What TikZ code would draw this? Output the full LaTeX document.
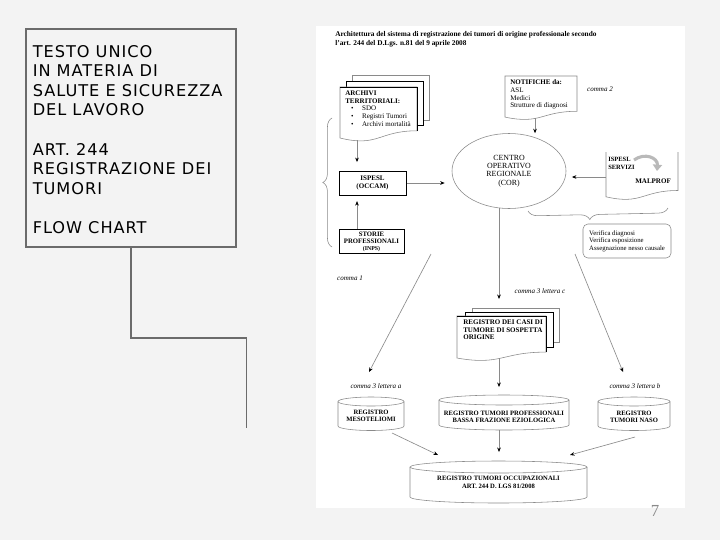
\documentclass[tikz,border=0pt]{standalone}
\usepackage{fontspec}
\setmainfont{Liberation Serif}
\newfontfamily\slidefont{DejaVu Sans}[LetterSpace=6]
\usetikzlibrary{arrows.meta,calc,shapes.geometric,decorations.pathreplacing}

\definecolor{slidebg}{HTML}{F3F3F3}
\definecolor{framegray}{HTML}{6B6B6B}
\definecolor{wiregray}{HTML}{8A8A8A}

\def\px{0.025cm}
\newcommand{\tinyfont}{\fontsize{5}{5.5}\selectfont}

% document sheet with wavy bottom: [opts]{x1}{y1}{x2}{y2}
\newcommand{\docsheet}[5][]{%
  \pgfmathsetmacro{\ydr}{#3+0.802*(#5-#3)}%
  \pgfmathsetmacro{\ydl}{#3+0.934*(#5-#3)}%
  \pgfmathsetmacro{\ydd}{#3+1.107*(#5-#3)}%
  \pgfmathsetmacro{\xdm}{(#2+#4)/2}%
  \draw[sheet,#1] (#2,#3) -- (#4,#3) -- (#4,\ydr) .. controls (\xdm,\ydr) and (\xdm,\ydd) .. (#2,\ydl) -- cycle;}

% register drum: {x1}{x2}{y top}{y bottom}{ry}
\newcommand{\regdrum}[5]{%
  \pgfmathsetmacro{\rxd}{(#2-#1)/2}%
  \pgfmathsetmacro{\xcd}{(#1+#2)/2}%
  \fill[white] (#1,#3) -- (#1,#4) arc[start angle=180, end angle=0, x radius=\rxd, y radius=#5] -- (#2,#3);
  \draw[wiregray, line width=0.4pt] (#1,#3) -- (#1,#4) arc[start angle=180, end angle=0, x radius=\rxd, y radius=#5] -- (#2,#3);
  \draw[sheet] (\xcd,#3) ellipse[x radius=\rxd, y radius=#5];}

\tikzset{
  sheet/.style={draw=wiregray, line width=0.4pt, fill=white},
  flow/.style={wiregray, line width=0.45pt, -{Stealth[length=3.2pt,width=2.6pt,color=black]}},
  doctext/.style={inner sep=0pt, align=left, anchor=north west, font=\tinyfont},
  boldbox/.style={draw=black, line width=0.7pt, fill=white, inner sep=0pt, align=center, font=\tinyfont\bfseries},
  cyltext/.style={inner sep=0pt, align=center, font=\fontsize{4.7}{5.2}\selectfont\bfseries},
  commalabel/.style={inner sep=0pt, font=\fontsize{5}{6}\selectfont\itshape},
}

\begin{document}
\begin{tikzpicture}[x=\px, y=-\px]
\useasboundingbox (0,0) rectangle (720,540);
\fill[slidebg] (0,0) rectangle (720,540);

% slide title box
\node[draw=framegray, line width=0.8pt, fill=slidebg, minimum width=210*\px, minimum height=218*\px, inner sep=0pt] (infobox) at (131,138) {};
\node[anchor=north west, inner sep=0pt, align=left, font=\slidefont\fontsize{11.5}{13.9}\selectfont] (slidetxt) at (32.5,45)
  {TESTO UNICO\\IN MATERIA DI\\SALUTE E SICUREZZA\\DEL LAVORO\\[13.9pt]ART. 244\\REGISTRAZIONE DEI\\TUMORI\\[13.9pt]FLOW CHART};
\coordinate (stepknee) at (246.5,338);
\coordinate (stepend) at (246.5,428);
\draw[framegray, line width=0.8pt] (infobox.south) |- (stepknee) -- (stepend);

% scanned chart
\fill[white] (316,26) rectangle (685,508);
\node[font=\fontsize{12}{14}\selectfont, text=wiregray, inner sep=0pt] (pagenum) at (655,511) {7};
\node[doctext, font=\fontsize{5.2}{6.4}\selectfont\bfseries] (charttitle) at (335,31.5)
  {Architettura del sistema di registrazione dei tumori di origine professionale secondo\\l'art. 244 del D.Lgs. n.81 del 9 aprile 2008};

% archivi territoriali
\draw[sheet] (352,75) rectangle (429,120);
\draw[sheet, draw=black, line width=0.6pt] (346,81) rectangle (423,125);
\docsheet{340}{87}{417}{141.6}
\draw[black, line width=0.6pt] (340,87) -- (417,87) -- (417,130.8);
\node[doctext] (archivi) at (345,90.5)
  {\textbf{ARCHIVI}\\\textbf{TERRITORIALI:}\\
   \makebox[12pt][l]{\hspace{4.2pt}\textbullet}SDO\\
   \makebox[12pt][l]{\hspace{4.2pt}\textbullet}Registri Tumori\\
   \makebox[12pt][l]{\hspace{4.2pt}\textbullet}Archivi mortalità};

% notifiche
\docsheet{505}{76}{577}{120}
\node[doctext] (notifiche) at (510,79.5)
  {\textbf{NOTIFICHE da:}\\ASL\\Medici\\Strutture di diagnosi};
\node[commalabel] (comma2) at (600,89) {comma 2};

% left column
\node[boldbox, minimum width=67*\px, minimum height=24*\px] (occam) at (372.5,183) {ISPESL\\(OCCAM)};
\node[boldbox, minimum width=65*\px, minimum height=24*\px, font=\fontsize{4.8}{4.9}\selectfont\bfseries] (storie) at (371.5,241.5)
  {STORIE\\PROFESSIONALI\\{\fontsize{4.2}{4.9}\selectfont(INPS)}};
\draw[wiregray, line width=0.4pt, decorate, decoration={brace, amplitude=6.5pt}] (332,247) -- (332,118);

% centro operativo
\node[ellipse, draw=wiregray, line width=0.4pt, fill=white, minimum width=114*\px, minimum height=75*\px, inner sep=0pt,
      align=center, font=\fontsize{5.6}{5.8}\selectfont] (cor) at (509,171) {CENTRO\\OPERATIVO\\REGIONALE\\(COR)};

% ispesl servizi
\docsheet[draw=none]{606}{152}{678}{200}
\draw[wiregray, line width=0.4pt] (678,152) -- (678,190.5) .. controls (642,190.5) and (642,205.1) .. (606,196.8) -- (606,152);
\node[doctext, font=\fontsize{4.6}{5.5}\selectfont\bfseries] (ispesl) at (608,157) {ISPESL\\SERVIZI};
\node[inner sep=0pt, anchor=west, font=\tinyfont\bfseries] (malprof) at (635,181.5) {MALPROF};
\draw[line width=2.2pt, gray!55, -{Triangle[length=4.5pt,width=6.5pt]}] (634,160) .. controls (645,152) and (658,158) .. (657,171);

% verifica
\draw[wiregray, line width=0.4pt, decorate, decoration={brace, mirror, amplitude=7pt, aspect=0.44}] (528,211) -- (668,208);
\node[draw=wiregray, line width=0.4pt, rounded corners=3.5pt, minimum width=88*\px, minimum height=34*\px, inner sep=0pt,
      align=left, font=\fontsize{4.8}{5.3}\selectfont] (verifica) at (627,241)
  {Verifica diagnosi\\Verifica esposizione\\Assegnazione nesso causale};

% registro dei casi
\draw[sheet] (472,308) rectangle (559,342);
\draw[sheet, draw=black, line width=0.6pt] (465,312) rectangle (553,347);
\docsheet{457}{316}{546}{361}
\draw[black, line width=0.6pt] (457,316) -- (546,316) -- (546,352.1);
\node[doctext, font=\tinyfont\bfseries] (casi) at (463,319.5) {REGISTRO DEI CASI DI\\TUMORE DI SOSPETTA\\ORIGINE};

% comma labels
\node[commalabel] (comma1) at (350,278) {comma 1};
\node[commalabel] (comma3c) at (540,291) {comma 3 lettera c};
\node[commalabel] (comma3a) at (376,386) {comma 3 lettera a};
\node[commalabel] (comma3b) at (635,386) {comma 3 lettera b};

% registers
\regdrum{338}{404}{401.5}{426}{4.5}
\node[cyltext] (meso) at (371,416) {REGISTRO\\MESOTELIOMI};
\regdrum{439}{569}{400}{425}{5}
\node[cyltext] (tpro) at (504,416.5) {REGISTRO TUMORI PROFESSIONALI\\BASSA FRAZIONE EZIOLOGICA};
\regdrum{598}{670}{401.5}{426}{4.5}
\node[cyltext] (naso) at (634,416.5) {REGISTRO\\TUMORI NASO};
\regdrum{410}{587}{467}{497}{6}
\node[cyltext] (occ) at (498.5,482.5) {REGISTRO TUMORI OCCUPAZIONALI\\ART. 244 D. LGS 81/2008};

% connectors
\coordinate (archfoot) at (357,140);
\draw[flow, shorten >=6pt] (archfoot) -- (archfoot |- occam.north);
\draw[flow, shorten >=4pt] (storie.north -| archfoot) -- (occam.south -| archfoot);
\draw[flow, shorten >=5pt] (occam.east) -- (occam.east -| cor.west);
\coordinate (notifoot) at (535,118);
\draw[flow] (notifoot) -- (notifoot |- cor.north);
\coordinate (ispfoot) at (606,177);
\draw[flow, shorten >=4pt] (ispfoot) -- (ispfoot -| cor.east);
\coordinate (casihead) at (499,299);
\draw[flow] ($(cor.south)+(-10,-1)$) -- (casihead);
\coordinate (ldtop) at (431,254);
\coordinate (ldtip) at (369,372);
\draw[flow] (ldtop) -- (ldtip);
\coordinate (rdtop) at (575,254);
\coordinate (rdtip) at (623,372);
\draw[flow] (rdtop) -- (rdtip);
\coordinate (casifoot) at (499,358);
\coordinate (tprohead) at (499,387);
\draw[flow] (casifoot) -- (tprohead);
\coordinate (tprofoot) at (499,430);
\coordinate (occhead) at (499,452);
\draw[flow] (tprofoot) -- (occhead);
\coordinate (mesofoot) at (392,433);
\coordinate (occleft) at (438,455);
\draw[flow] (mesofoot) -- (occleft);
\coordinate (nasofoot) at (635,437);
\coordinate (occright) at (570,455);
\draw[flow] (nasofoot) -- (occright);
\end{tikzpicture}
\end{document}
